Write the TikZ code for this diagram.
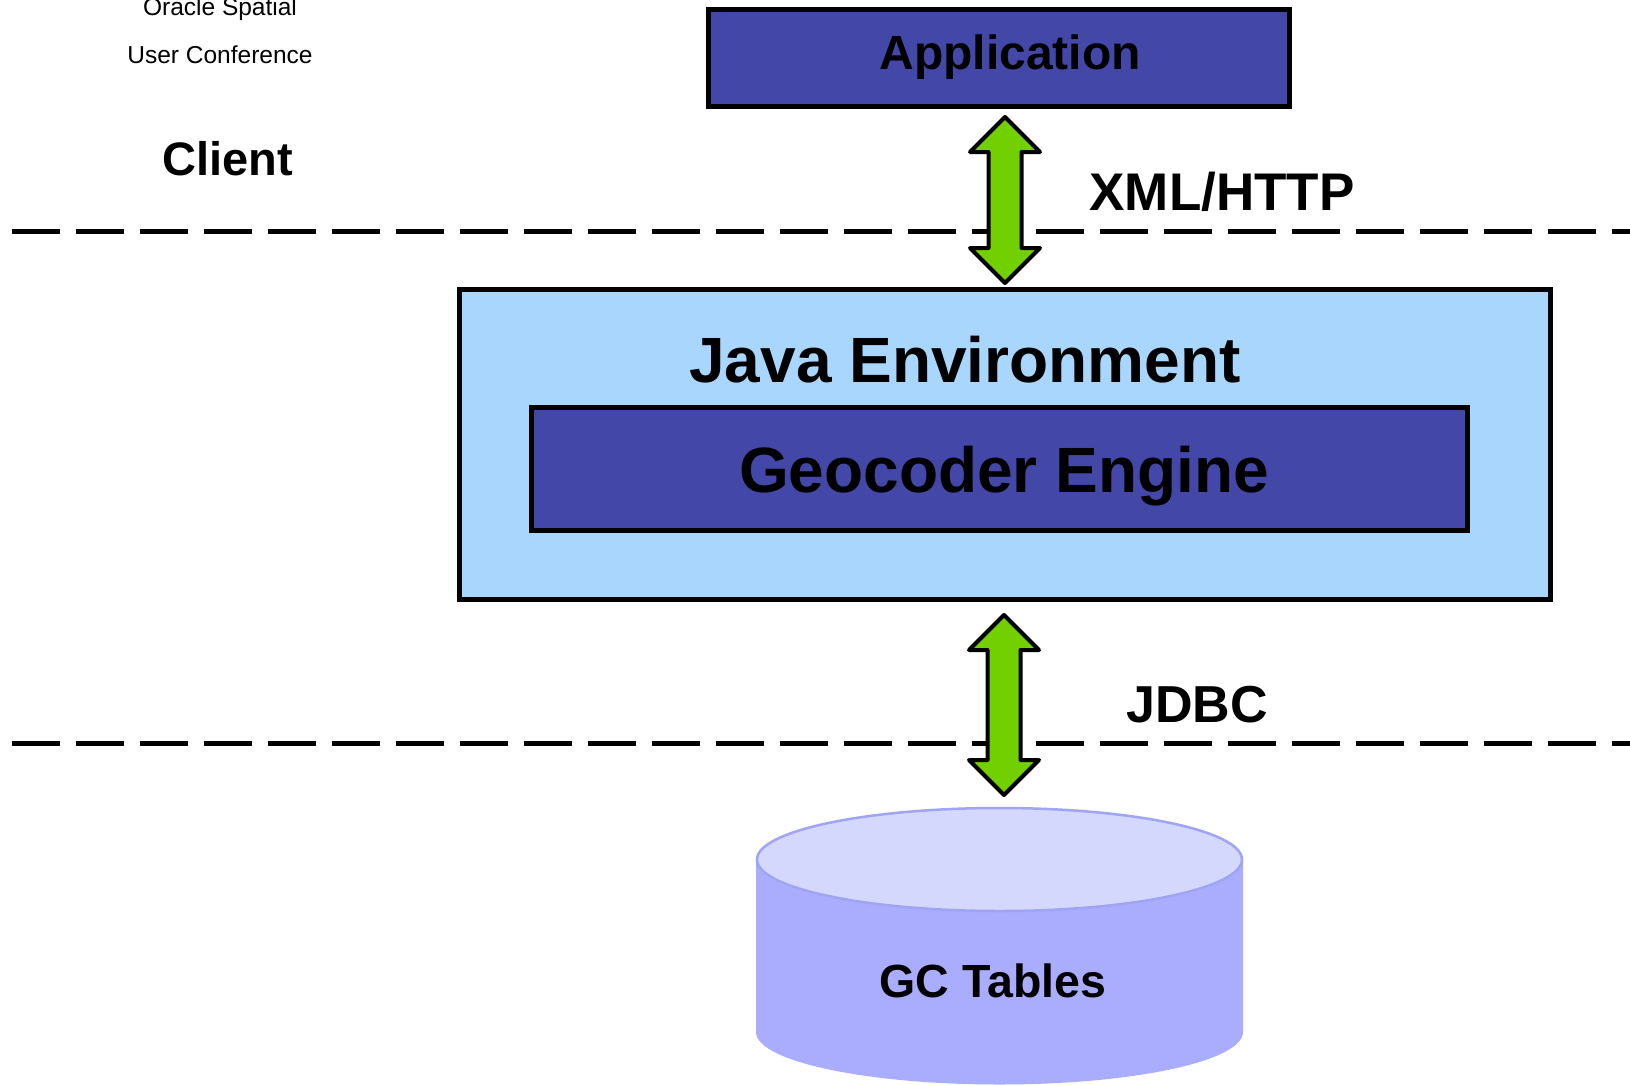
\documentclass[tikz,border=0pt]{standalone}
\usepackage{fontspec}
\setmainfont{Liberation Sans}
\usetikzlibrary{calc}
\definecolor{boxblue}{RGB}{67,72,168}
\definecolor{javablue}{RGB}{168,214,253}
\definecolor{arrowgreen}{RGB}{115,208,0}
\definecolor{cylbody}{RGB}{170,173,253}
\definecolor{cyltop}{RGB}{213,216,253}
\definecolor{cylline}{RGB}{160,164,245}
\newcommand\fsz[1]{\fontsize{#1}{#1}\selectfont}
\newcommand\dblarrow[2]{%
  \draw[blockarrow] (#1) -- ($(#1)+(35,35)$) -- ($(#1)+(16.5,35)$) -- ($(#2)+(16.5,-35)$)
    -- ($(#2)+(35,-35)$) -- (#2) -- ($(#2)+(-35,-35)$) -- ($(#2)+(-16.5,-35)$)
    -- ($(#1)+(-16.5,35)$) -- ($(#1)+(-35,35)$) -- cycle;}
\begin{document}
\begin{tikzpicture}[x=1pt,y=-1pt,
  box/.style={draw=black, line width=5pt, inner sep=0pt, outer sep=0pt},
  lbl/.style={inner sep=0pt, outer sep=0pt, anchor=base},
  sepline/.style={line width=5pt, dash pattern=on 47.6pt off 16.4pt},
  blockarrow/.style={fill=arrowgreen, draw=black, line width=4pt, line join=round}]
\useasboundingbox[fill=white] (0,0) rectangle (1630,1084);

% separators
\coordinate (s1a) at (12,231); \coordinate (s1b) at (1640,231);
\coordinate (s2a) at (12,743); \coordinate (s2b) at (1640,743);
\draw[sepline] (s1a) -- (s1b);
\draw[sepline] (s2a) -- (s2b);

% top-left texts
\node[lbl] (oracle) at (220,16) {\fsz{24.5}Oracle Spatial};
\node[lbl] (conf) at (220,63) {\fsz{24.5}User Conference};
\node[lbl] (client) at (228,175) {\fsz{47}\bfseries Client};

% application
\node[box, fill=boxblue, minimum width=581pt, minimum height=97pt] (app) at (999,57.5) {};
\node[lbl] (apptext) at (1010,69) {\fsz{48}\bfseries Application};

% java environment
\node[box, fill=javablue, minimum width=1091pt, minimum height=310pt] (java) at (1005,444.5) {};
\node[lbl] (javatext) at (965,382) {\fsz{64}\bfseries Java Environment};
\node[box, fill=boxblue, minimum width=936pt, minimum height=123pt] (geo) at (999.5,469) {};
\node[lbl] (geotext) at (1004,492) {\fsz{64}\bfseries Geocoder Engine};

% cylinder
\fill[cylbody] (756,859.5) -- (756,1032) arc[start angle=180, end angle=360, x radius=243.5, y radius=-52.5] -- (1243,859.5) -- cycle;
\draw[cylline, fill=cyltop, line width=2.5pt] (999.5,859.5) ellipse[x radius=242.5, y radius=51.5];
\node[lbl] (gc) at (993,997) {\fsz{46.5}\bfseries GC Tables};

% arrows
\coordinate (a1t) at (1005,117); \coordinate (a1b) at (1005,283);
\dblarrow{a1t}{a1b}
\node[lbl] (xml) at (1222,210) {\fsz{53}\bfseries XML/HTTP};

\coordinate (a2t) at (1004,615); \coordinate (a2b) at (1004,795);
\dblarrow{a2t}{a2b}
\node[lbl] (jdbc) at (1197,722) {\fsz{52}\bfseries JDBC};
\end{tikzpicture}
\end{document}
